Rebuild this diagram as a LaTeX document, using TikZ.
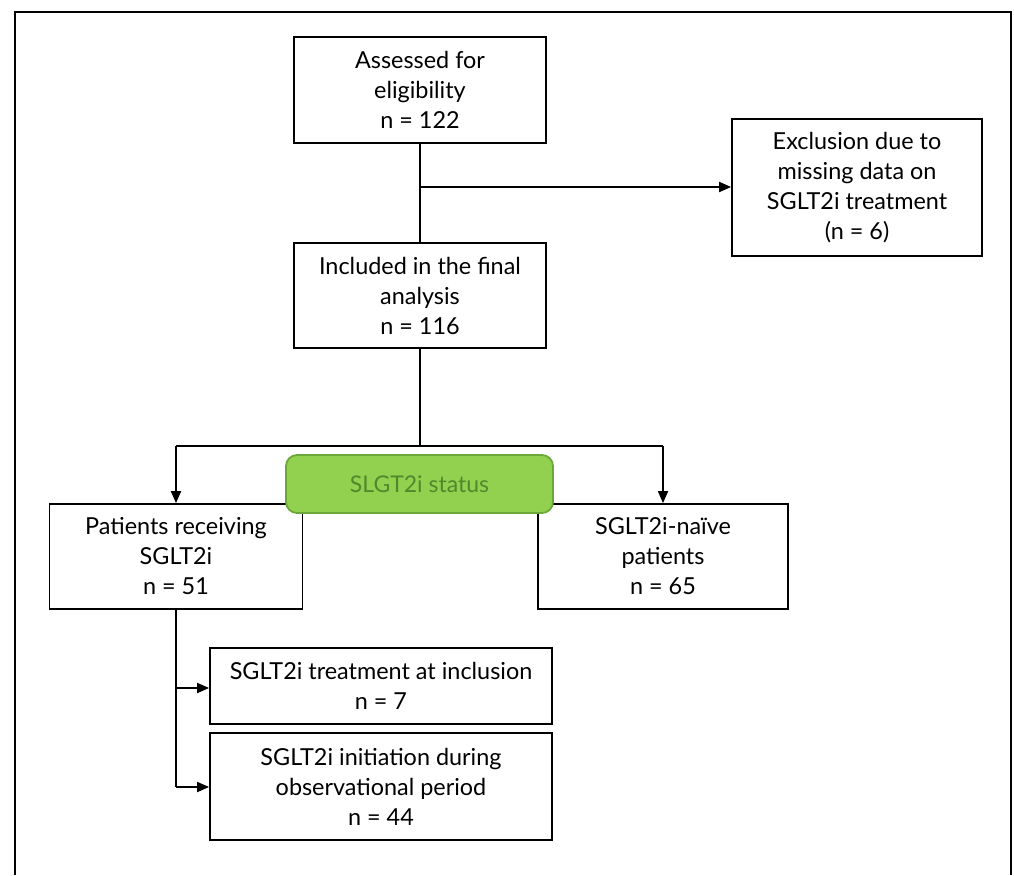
\documentclass[tikz,border=0pt]{standalone}
\usepackage{fontspec}
\setmainfont{Lato}
\usetikzlibrary{arrows.meta}
\definecolor{gfill}{HTML}{92D050}
\definecolor{gdraw}{HTML}{6AA83A}
\definecolor{gtext}{HTML}{4E8A2C}
\tikzset{
  box/.style={draw=black, line width=1.8pt, fill=white, inner sep=0pt, align=center,
    font=\fontsize{23.4}{30}\selectfont},
  conn/.style={draw=black, line width=1.8pt},
  arr/.style={conn, -{Triangle[length=12pt,width=10pt]}},
}
\begin{document}
\begin{tikzpicture}[x=1pt,y=-1pt]
\useasboundingbox (0,0) rectangle (1014,875);
% outer frame (open at bottom)
\draw[line width=2.8pt] (15,875) -- (15,12) -- (1011,12) -- (1011,875);
% boxes
\node[box, minimum width=252pt, minimum height=106pt] (assess) at (420,90) {Assessed for\\eligibility\\n = 122};
\node[box, minimum width=250pt, minimum height=137pt] (excl) at (857,187.5) {Exclusion due to\\missing data on\\SGLT2i treatment\\(n = 6)};
\node[box, minimum width=252pt, minimum height=105pt] (incl) at (420,295.5) {Included in the final\\analysis\\n = 116};
\node[box, minimum width=253pt, minimum height=105pt] (recv) at (176,556.5) {Patients receiving\\SGLT2i\\n = 51};
\node[box, minimum width=250pt, minimum height=105pt] (naive) at (663,556.5) {SGLT2i-naïve\\patients\\n = 65};
\node[box, minimum width=342pt, minimum height=76pt] (treat) at (381,686) {SGLT2i treatment at inclusion\\n = 7};
\node[box, minimum width=342pt, minimum height=107pt] (init) at (381,786.5) {SGLT2i initiation during\\observational period\\n = 44};
% connectors
\coordinate (split) at (420,446);
\coordinate (exclj) at (420,187);
\coordinate (leftj) at (176,446);
\coordinate (rightj) at (663,446);
\coordinate (subj1) at (176,688);
\coordinate (subj2) at (176,787);
\draw[conn] (assess.south) -- (incl.north);
\draw[arr] (exclj) -- (excl.west |- exclj);
\draw[conn] (incl.south) -- (split);
\draw[conn] (leftj) -- (rightj);
\draw[arr] (leftj) -- (recv.north);
\draw[arr] (rightj) -- (naive.north);
\draw[conn] (recv.south) -- (subj2);
\draw[arr] (subj1) -- (treat.west |- subj1);
\draw[arr] (subj2) -- (init.west |- subj2);
% green status label
\node[draw=gdraw, line width=1.8pt, fill=gfill, rounded corners=11pt, minimum width=267pt, minimum height=58pt,
  text=gtext, font=\fontsize{23}{26}\selectfont] (status) at (419.5,484) {SLGT2i status};
\end{tikzpicture}
\end{document}
